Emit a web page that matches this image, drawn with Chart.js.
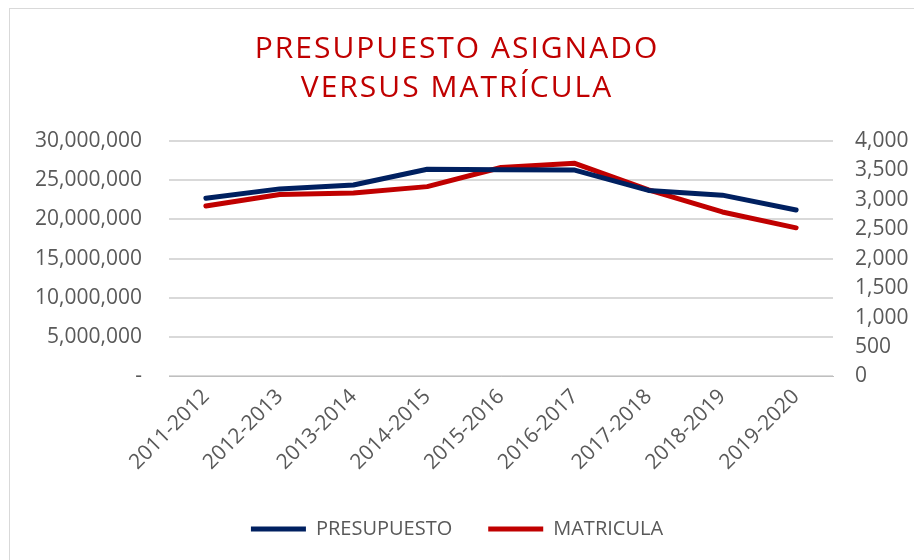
<!DOCTYPE html>
<html>
<head>
<meta charset="utf-8">
<script src="https://cdn.jsdelivr.net/npm/chart.js@4"></script>
<style>
  html, body { margin: 0; padding: 0; background: #fff; }
  #wrap { position: relative; width: 914px; height: 560px; overflow: hidden; }
  #frame { position: absolute; left: 9px; top: 8px; width: 1000px; height: 700px; border: 1px solid #d9d9d9; box-sizing: border-box; }
  canvas { position: absolute; left: 0; top: 0; }
</style>
</head>
<body>
<div id="wrap">
  <div id="frame"></div>
  <canvas id="chart" width="914" height="560"></canvas>
</div>
<script>
// Presupuesto asignado vs matrícula
const periodos = ['2011-2012', '2012-2013', '2013-2014', '2014-2015', '2015-2016',
                  '2016-2017', '2017-2018', '2018-2019', '2019-2020'];
const presupuesto = [22700000, 23900000, 24400000, 26400000, 26350000, 26300000, 23700000, 23100000, 21200000];
const matricula = [2895, 3090, 3115, 3225, 3550, 3620, 3170, 2795, 2525];

const gris = '#595959';
const fuente = 'Open Sans';

const ctx = document.getElementById('chart').getContext('2d');
const chart = new Chart(ctx, {
  type: 'line',
  data: {
    labels: periodos,
    datasets: [{
      label: 'PRESUPUESTO',
      data: presupuesto,
      borderColor: '#002060',
      backgroundColor: '#002060',
      borderWidth: 5,
      borderCapStyle: 'round',
      borderJoinStyle: 'round',
      pointRadius: 0,
      tension: 0,
      yAxisID: 'y'
    }, {
      label: 'MATRICULA',
      data: matricula,
      borderColor: '#C00000',
      backgroundColor: '#C00000',
      borderWidth: 5,
      borderCapStyle: 'round',
      borderJoinStyle: 'round',
      pointRadius: 0,
      tension: 0,
      yAxisID: 'y1'
    }]
  },
  options: {
    responsive: false,
    animation: false,
    layout: { padding: { top: 10, left: 0, right: 0, bottom: 11 } },
    plugins: {
      title: {
        display: true,
        text: ['PRESUPUESTO ASIGNADO', 'VERSUS MATRÍCULA'],
        color: '#C00000',
        font: { family: fuente, size: 30, weight: 'normal', lineHeight: 1.3 },
        padding: { top: 20, bottom: 33 }
      },
      legend: {
        position: 'bottom',
        labels: {
          usePointStyle: true,
          pointStyle: 'line',
          pointStyleWidth: 55,
          color: gris,
          padding: 36,
          font: { family: fuente, size: 20 }
        }
      },
      tooltip: { enabled: false }
    },
    scales: {
      x: {
        offset: true,
        grid: { display: false, drawTicks: false },
        border: { display: true, color: '#bfbfbf', width: 1 },
        ticks: {
          color: gris,
          minRotation: 45,
          maxRotation: 45,
          padding: 8,
          font: { family: fuente, size: 21 }
        }
      },
      y: {
        position: 'left',
        min: 0,
        max: 30000000,
        grid: { color: '#d9d9d9', lineWidth: 2, drawTicks: false },
        border: { display: false },
        afterFit: (s) => { s.width = 169; },
        ticks: {
          stepSize: 5000000,
          autoSkip: false,
          color: gris,
          padding: 27,
          font: { family: fuente, size: 21 },
          callback: (v) => v === 0 ? '-' : v.toLocaleString('en-US')
        }
      },
      y1: {
        position: 'right',
        min: 0,
        max: 4000,
        grid: { display: false, drawTicks: false },
        border: { display: false },
        afterFit: (s) => { s.width = 81; },
        ticks: {
          stepSize: 500,
          autoSkip: false,
          color: gris,
          padding: 22,
          font: { family: fuente, size: 21 },
          callback: (v) => v.toLocaleString('en-US')
        }
      }
    }
  }
});

// espaciado de letras del título
const tb = chart.titleBlock;
const drawTitle = tb.draw.bind(tb);
tb.draw = function () {
  this.ctx.save();
  this.ctx.letterSpacing = '2px';
  drawTitle();
  this.ctx.restore();
};
chart.draw();
</script>
</body>
</html>
